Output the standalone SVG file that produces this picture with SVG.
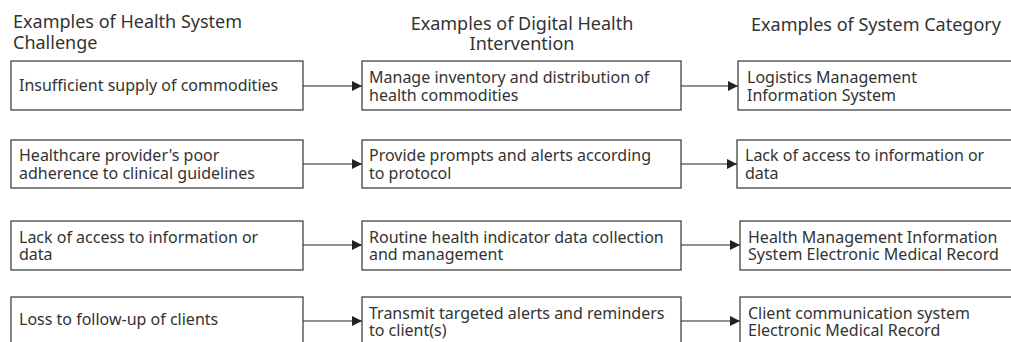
<svg xmlns="http://www.w3.org/2000/svg" width="1011" height="342" viewBox="0 0 1011 342">
<style>
.hd{font-family:"Noto Sans","DejaVu Sans",sans-serif;font-size:18px;fill:#333}
.tx{font-family:"Noto Sans","DejaVu Sans",sans-serif;font-size:16px;fill:#333}
.bx{fill:#fff;stroke:#333;stroke-width:1.2}
.cn{stroke:#222;stroke-width:1.2;fill:none}
</style>
<defs>
<marker id="ah" viewBox="0 0 10 10" refX="10" refY="5" markerWidth="10" markerHeight="11" markerUnits="userSpaceOnUse" orient="auto">
<path d="M0,0L10,5L0,10Z" fill="#222"/>
</marker>
</defs>
<rect width="1011" height="342" fill="#fff"/>
<g id="headers">
<text class="hd" x="13" y="28">Examples of Health System</text>
<text class="hd" x="13" y="49">Challenge</text>
<text class="hd" x="522" y="30" text-anchor="middle">Examples of Digital Health</text>
<text class="hd" x="522" y="50" text-anchor="middle">Intervention</text>
<text class="hd" x="751" y="31">Examples of System Category</text>
</g>
<g id="connectors">
<line class="cn" x1="303" y1="86" x2="362" y2="86" marker-end="url(#ah)"/>
<line class="cn" x1="681" y1="86" x2="738" y2="86" marker-end="url(#ah)"/>
<line class="cn" x1="303" y1="164" x2="362" y2="164" marker-end="url(#ah)"/>
<line class="cn" x1="681" y1="164" x2="737" y2="164" marker-end="url(#ah)"/>
<line class="cn" x1="303" y1="245" x2="362" y2="245" marker-end="url(#ah)"/>
<line class="cn" x1="681" y1="245" x2="740" y2="245" marker-end="url(#ah)"/>
<line class="cn" x1="303" y1="321" x2="362" y2="321" marker-end="url(#ah)"/>
<line class="cn" x1="681" y1="321" x2="740" y2="321" marker-end="url(#ah)"/>
</g>
<g id="c1">
<rect class="bx" x="11" y="61" width="292" height="49"/>
<text class="tx" x="19" y="91">Insufficient supply of commodities</text>
</g>
<g id="i1">
<rect class="bx" x="362" y="61" width="319" height="49"/>
<text class="tx" x="369" y="83">Manage inventory and distribution of</text>
<text class="tx" x="369" y="100.5">health commodities</text>
</g>
<g id="s1">
<rect class="bx" x="738" y="61" width="290" height="49"/>
<text class="tx" x="747" y="83">Logistics Management</text>
<text class="tx" x="747" y="100.5">Information System</text>
</g>
<g id="c2">
<rect class="bx" x="11" y="140" width="292" height="48"/>
<text class="tx" x="19" y="161">Healthcare provider's poor</text>
<text class="tx" x="19" y="178.5">adherence to clinical guidelines</text>
</g>
<g id="i2">
<rect class="bx" x="362" y="140" width="319" height="48"/>
<text class="tx" x="369" y="161">Provide prompts and alerts according</text>
<text class="tx" x="369" y="178.5">to protocol</text>
</g>
<g id="s2">
<rect class="bx" x="737" y="140" width="290" height="48"/>
<text class="tx" x="745" y="161">Lack of access to information or</text>
<text class="tx" x="745" y="178.5">data</text>
</g>
<g id="c3">
<rect class="bx" x="11" y="221" width="292" height="49"/>
<text class="tx" x="19" y="242.5">Lack of access to information or</text>
<text class="tx" x="19" y="260">data</text>
</g>
<g id="i3">
<rect class="bx" x="362" y="221" width="319" height="49"/>
<text class="tx" x="369" y="242.5">Routine health indicator data collection</text>
<text class="tx" x="369" y="260">and management</text>
</g>
<g id="s3">
<rect class="bx" x="740" y="221" width="290" height="49"/>
<text class="tx" x="748" y="242.5">Health Management Information</text>
<text class="tx" x="748" y="260">System Electronic Medical Record</text>
</g>
<g id="c4">
<rect class="bx" x="11" y="297" width="292" height="49"/>
<text class="tx" x="19" y="325">Loss to follow-up of clients</text>
</g>
<g id="i4">
<rect class="bx" x="362" y="297" width="319" height="49"/>
<text class="tx" x="369" y="318.5">Transmit targeted alerts and reminders</text>
<text class="tx" x="369" y="336">to client(s)</text>
</g>
<g id="s4">
<rect class="bx" x="740" y="297" width="290" height="49"/>
<text class="tx" x="748" y="318.5">Client communication system</text>
<text class="tx" x="748" y="336">Electronic Medical Record</text>
</g>
</svg>
